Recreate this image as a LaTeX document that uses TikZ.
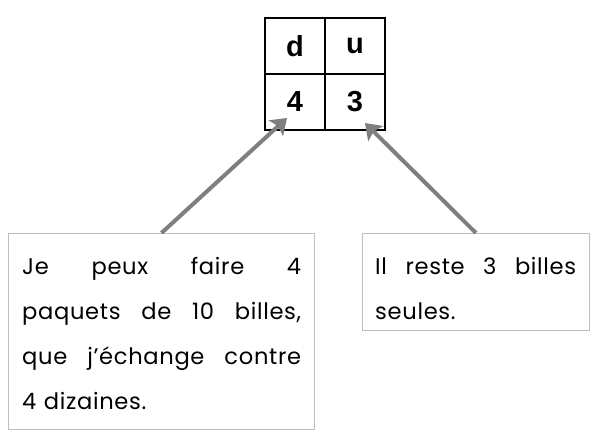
\documentclass[tikz,border=0pt]{standalone}
\usepackage{fontspec}
\setmainfont{Poppins}[LetterSpace=3]
\newfontfamily\cellfont{Liberation Sans}
\usetikzlibrary{arrows.meta}
\definecolor{arrowgray}{HTML}{7F7F7F}
\definecolor{boxgray}{HTML}{BFBFBF}
\newcommand{\fullline}[2]{\leavevmode\hbox to #1{#2}}
\begin{document}
\begin{tikzpicture}[x=1pt,y=1pt,
  cell/.style={draw=black, line width=1.3pt, minimum width=60pt, minimum height=56pt,
    inner sep=0pt, font=\cellfont\bfseries\fontsize{29}{30}\selectfont},
  notebox/.style={draw=boxgray, line width=0.9pt, inner sep=0pt, anchor=north west},
  notetext/.style={inner sep=0pt, anchor=north west, align=left,
    font=\fontsize{22.6}{45}\selectfont},
  pointer/.style={draw=arrowgray, line width=4pt,
    -{Stealth[length=15pt,width=21pt,inset=3pt]}}]
\useasboundingbox (0,0) rectangle (593,-442);
% table
\node[cell] (d) at (295,-46) {d};
\node[cell] (u) at (355,-46) {u};
\node[cell] (n4) at (295,-102) {4};
\node[cell] (n3) at (355,-102) {3};
% boxes
\node[notebox, minimum width=306pt, minimum height=196pt] (lbox) at (8,-233) {};
\node[notebox, minimum width=227pt, minimum height=97pt] (rbox) at (362,-233) {};
\node[notetext, text width=279pt] (ltext) at (22,-257) {\fullline{279pt}{Je\hfill peux\hfill faire\hfill 4}\\
  \fullline{279pt}{paquets\hfill de\hfill 10\hfill billes,}\\
  \fullline{279pt}{que\hfill j’échange\hfill contre}\\
  4 dizaines.};
\node[notetext, text width=201pt] (rtext) at (375,-257) {\fullline{201pt}{Il\hfill reste\hfill 3\hfill billes}\\
  seules.};
% arrows
\coordinate (ltip) at (287,-118);
\coordinate (rtip) at (365,-123);
\draw[pointer] (lbox.north) -- (ltip);
\draw[pointer] (rbox.north) -- (rtip);
\end{tikzpicture}
\end{document}
